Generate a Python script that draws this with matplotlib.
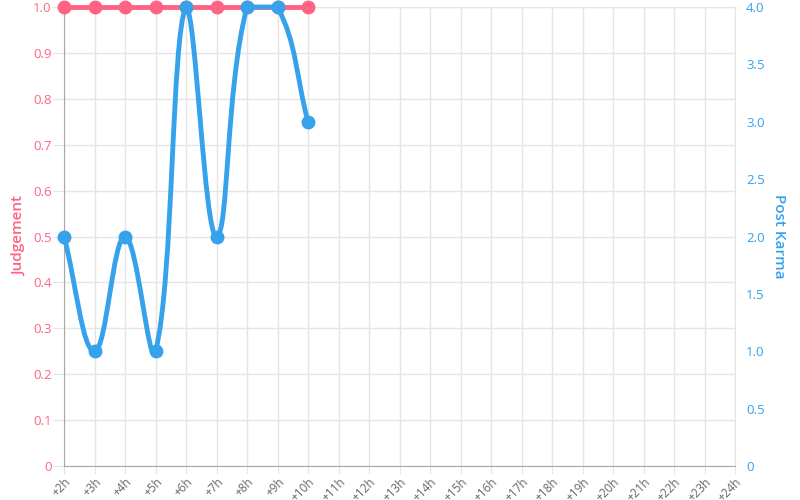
import matplotlib
matplotlib.use("Agg")
from matplotlib import pyplot as plt
from matplotlib.path import Path
from matplotlib.patches import PathPatch
import numpy as np

plt.rcParams['font.family'] = ['Open Sans', 'DejaVu Sans']

hours = ['+%dh' % h for h in range(2, 25)]
judgement = [1, 1, 1, 1, 1, 1, 1, 1, 1]
karma = [2, 1, 2, 1, 4, 2, 4, 4, 3]

red = '#ff6384'
blue = '#36a2eb'
grid_c = '#e5e5e5'
axis_c = '#a8a8a8'
tick_c = '#666666'

fig = plt.figure(figsize=(8, 5), dpi=100)
ax = fig.add_axes([0.08, 0.068, 0.83875, 0.918])
ax2 = ax.twinx()

ax.set_xlim(0, len(hours) - 1)
ax.set_ylim(0, 1)
ax2.set_ylim(0, 4)

ax.set_xticks(range(len(hours)))
ax.set_xticklabels(hours, rotation=45, ha='right', rotation_mode='anchor')
ax.set_yticks(np.arange(0, 1.01, 0.1))
ax.set_yticklabels(['0'] + ['%.1f' % v for v in np.arange(0.1, 1.01, 0.1)])
ax2.set_yticks(np.arange(0, 4.01, 0.5))
ax2.set_yticklabels(['0'] + ['%.1f' % v for v in np.arange(0.5, 4.01, 0.5)])

ax.grid(True, color=grid_c, linewidth=1)
ax.set_axisbelow(True)
for s in ['top', 'right']:
    ax.spines[s].set_color(grid_c)
for s in ['left', 'bottom']:
    ax.spines[s].set_color(axis_c)
for s in ax2.spines.values():
    s.set_visible(False)

ax.tick_params(axis='x', colors=grid_c, labelcolor=tick_c, labelsize=8.5, length=6, pad=1)
ax.tick_params(axis='y', colors=grid_c, labelcolor=red, labelsize=9.5, length=8, pad=1)
ax2.tick_params(axis='y', length=0, labelcolor=blue, labelsize=9.5, pad=8)

ax.set_ylabel('Judgement', color=red, fontsize=11, fontweight='semibold', labelpad=5)
ax2.set_ylabel('Post Karma', color=blue, fontsize=11, fontweight='semibold',
               rotation=270, labelpad=15)

# judgement line
xs = list(range(len(judgement)))
ax.plot(xs, judgement, color=red, linewidth=3.5, marker='o', markersize=9,
        clip_on=False, zorder=5, solid_capstyle='round')

# karma line with Chart.js-like bezier (tension 0.4) in pixel space
fig.canvas.draw()
pts = ax2.transData.transform(np.column_stack([range(len(karma)), karma]))
top = ax2.transData.transform((0, 4))[1]
bot = ax2.transData.transform((0, 0))[1]
t = 0.4
cps = []
n = len(pts)
for i in range(n):
    prev = pts[i - 1] if i > 0 else pts[i]
    cur = pts[i]
    nxt = pts[i + 1] if i < n - 1 else pts[i]
    d01 = np.hypot(*(cur - prev))
    d12 = np.hypot(*(nxt - cur))
    tot = d01 + d12
    s01 = d01 / tot if tot else 0
    s12 = d12 / tot if tot else 0
    c1 = cur - t * s01 * (nxt - prev)
    c2 = cur + t * s12 * (nxt - prev)
    c1[1] = min(max(c1[1], bot), top)
    c2[1] = min(max(c2[1], bot), top)
    cps.append((c1, c2))
verts = [pts[0]]
codes = [Path.MOVETO]
for i in range(n - 1):
    verts += [cps[i][1], cps[i + 1][0], pts[i + 1]]
    codes += [Path.CURVE4] * 3
inv = ax2.transData.inverted()
verts = inv.transform(np.array(verts))
patch = PathPatch(Path(verts, codes), facecolor='none', edgecolor=blue,
                  linewidth=3.5, clip_on=False, zorder=4, capstyle='round')
ax2.add_patch(patch)
ax2.plot(range(len(karma)), karma, linestyle='none', marker='o', markersize=9,
         color=blue, clip_on=False, zorder=5)

fig.savefig('out.png', dpi=100)
